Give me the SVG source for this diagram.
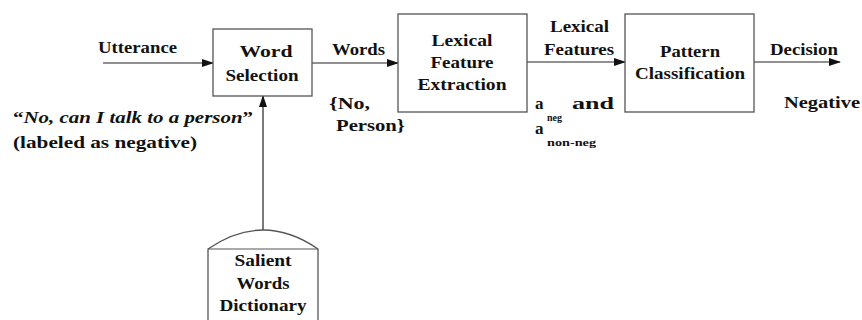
<svg xmlns="http://www.w3.org/2000/svg" width="862" height="320" viewBox="0 0 862 320">
<defs>
<marker id="ah" markerWidth="12" markerHeight="8" refX="11" refY="4" orient="auto" markerUnits="userSpaceOnUse">
<path d="M0,0 L12,4 L0,8 Z" fill="#111"/>
</marker>
</defs>
<rect width="862" height="320" fill="#fff"/>
<g id="connectors" stroke="#222" stroke-width="1.2" fill="none">
<line x1="103" y1="63" x2="213" y2="63" marker-end="url(#ah)"/>
<line x1="312" y1="63" x2="398" y2="63" marker-end="url(#ah)"/>
<line x1="527" y1="62" x2="625" y2="62" marker-end="url(#ah)"/>
<line x1="754" y1="62" x2="840" y2="62" marker-end="url(#ah)"/>
<line x1="263" y1="230" x2="263" y2="96" marker-end="url(#ah)"/>
</g>
<g id="word-selection" fill="#111" text-anchor="middle">
<rect x="213" y="29" width="99" height="67" fill="#fff" stroke="#555" stroke-width="1.3"/>
<text x="266" y="57" style="font-family:'Liberation Serif';font-size:16px;font-weight:bold" textLength="53" lengthAdjust="spacingAndGlyphs">Word</text>
<text x="262" y="81" style="font-family:'Liberation Serif';font-size:16px;font-weight:bold" textLength="73" lengthAdjust="spacingAndGlyphs">Selection</text>
</g>
<g id="lexical-feature-extraction" fill="#111" text-anchor="middle">
<rect x="398" y="14" width="129" height="98" fill="#fff" stroke="#555" stroke-width="1.3"/>
<text x="462" y="46" style="font-family:'Liberation Serif';font-size:16px;font-weight:bold" textLength="61" lengthAdjust="spacingAndGlyphs">Lexical</text>
<text x="462" y="68" style="font-family:'Liberation Serif';font-size:16px;font-weight:bold" textLength="63" lengthAdjust="spacingAndGlyphs">Feature</text>
<text x="462" y="90" style="font-family:'Liberation Serif';font-size:16px;font-weight:bold" textLength="89" lengthAdjust="spacingAndGlyphs">Extraction</text>
</g>
<g id="pattern-classification" fill="#111" text-anchor="middle">
<rect x="625" y="14" width="129" height="98" fill="#fff" stroke="#555" stroke-width="1.3"/>
<text x="690" y="57" style="font-family:'Liberation Serif';font-size:16px;font-weight:bold" textLength="60" lengthAdjust="spacingAndGlyphs">Pattern</text>
<text x="690" y="79" style="font-family:'Liberation Serif';font-size:16px;font-weight:bold" textLength="110" lengthAdjust="spacingAndGlyphs">Classification</text>
</g>
<g id="salient-words-dictionary" fill="#111" text-anchor="middle">
<path d="M208,322 V249 Q263,211 318,249 V322" fill="#fff" stroke="#555" stroke-width="1.3"/>
<line x1="208" y1="249" x2="318" y2="249" stroke="#555" stroke-width="1.2"/>
<text x="263" y="266" style="font-family:'Liberation Serif';font-size:16px;font-weight:bold" textLength="57" lengthAdjust="spacingAndGlyphs">Salient</text>
<text x="263" y="289" style="font-family:'Liberation Serif';font-size:16px;font-weight:bold" textLength="53" lengthAdjust="spacingAndGlyphs">Words</text>
<text x="263" y="311" style="font-family:'Liberation Serif';font-size:16px;font-weight:bold" textLength="87" lengthAdjust="spacingAndGlyphs">Dictionary</text>
</g>
<g id="labels" fill="#111">
<text x="98" y="53" style="font-family:'Liberation Serif';font-size:16px;font-weight:bold" textLength="79" lengthAdjust="spacingAndGlyphs">Utterance</text>
<text x="332" y="55" style="font-family:'Liberation Serif';font-size:16px;font-weight:bold" textLength="53" lengthAdjust="spacingAndGlyphs">Words</text>
<text x="329" y="109" style="font-family:'Liberation Serif';font-size:16px;font-weight:bold" textLength="41" lengthAdjust="spacingAndGlyphs">{No,</text>
<text x="336" y="131" style="font-family:'Liberation Serif';font-size:16px;font-weight:bold" textLength="69" lengthAdjust="spacingAndGlyphs">Person}</text>
<text x="550" y="32" style="font-family:'Liberation Serif';font-size:16px;font-weight:bold" textLength="59" lengthAdjust="spacingAndGlyphs">Lexical</text>
<text x="544" y="55" style="font-family:'Liberation Serif';font-size:16px;font-weight:bold" textLength="70" lengthAdjust="spacingAndGlyphs">Features</text>
<text x="535" y="109" style="font-family:'Liberation Serif';font-size:17px;font-weight:bold">a</text>
<text x="547" y="121" style="font-family:'Liberation Serif';font-size:10px;font-weight:bold">neg</text>
<text x="572" y="109" style="font-family:'Liberation Serif';font-size:16px;font-weight:bold" textLength="42" lengthAdjust="spacingAndGlyphs">and</text>
<text x="535" y="134" style="font-family:'Liberation Serif';font-size:17px;font-weight:bold">a</text>
<text x="547" y="146" style="font-family:'Liberation Serif';font-size:10px;font-weight:bold" textLength="49" lengthAdjust="spacingAndGlyphs">non-neg</text>
<text x="770" y="55" style="font-family:'Liberation Serif';font-size:16px;font-weight:bold" textLength="68" lengthAdjust="spacingAndGlyphs">Decision</text>
<text x="784" y="108" style="font-family:'Liberation Serif';font-size:16px;font-weight:bold" textLength="76" lengthAdjust="spacingAndGlyphs">Negative</text>
<text x="13" y="123" style="font-family:'Liberation Serif';font-size:16px;font-weight:bold" textLength="240" lengthAdjust="spacingAndGlyphs">“<tspan style="font-style:italic">No, can I talk to a person</tspan>”</text>
<text x="13" y="148" style="font-family:'Liberation Serif';font-size:16px;font-weight:bold" textLength="184" lengthAdjust="spacingAndGlyphs">(labeled as negative)</text>
</g>
</svg>
